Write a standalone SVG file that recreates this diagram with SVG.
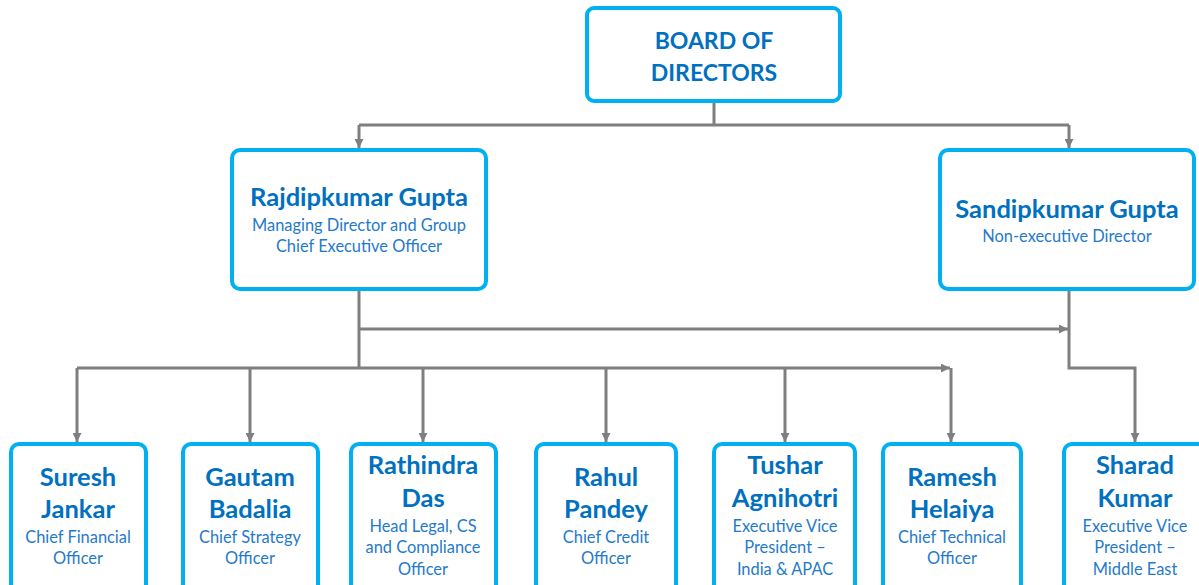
<svg xmlns="http://www.w3.org/2000/svg" width="1199" height="585" viewBox="0 0 1199 585">
<style>
.box{fill:#fff;stroke:#00B0F0;stroke-width:4}
.t{font-family:Lato,"Liberation Sans",sans-serif;font-weight:bold;fill:#0070C0;text-anchor:middle;font-size:25.5px}
.b{font-size:23px}
.s{font-family:Lato,"Liberation Sans",sans-serif;fill:#1F7ACB;text-anchor:middle;font-size:16.4px}
.c{fill:none;stroke:#7F7F7F;stroke-width:3}
.a{marker-end:url(#arr)}
</style>
<defs>
<marker id="arr" viewBox="0 0 10 10" refX="10" refY="5" markerWidth="9" markerHeight="9" markerUnits="userSpaceOnUse" orient="auto">
<path d="M0,0 L10,5 L0,10 z" fill="#7F7F7F"/>
</marker>
</defs>
<rect width="1199" height="585" fill="#fff"/>
<g id="connectors">
<path class="c" d="M714,103 V125 M359,125 H1069"/>
<path class="c a" d="M359,125 V148"/>
<path class="c a" d="M1069,125 V148"/>
<path class="c" d="M359,291 V368"/>
<path class="c a" d="M359,329 H1068"/>
<path class="c a" d="M1069,291 V368 H1135 V442"/>
<path class="c a" d="M77,368 H950"/>
<path class="c a" d="M951,368 V442"/>
<path class="c a" d="M77,368 V442"/>
<path class="c a" d="M250,368 V442"/>
<path class="c a" d="M423,368 V442"/>
<path class="c a" d="M606,368 V442"/>
<path class="c a" d="M785,368 V442"/>
</g>
<g id="board">
<rect class="box" x="587" y="8" width="253" height="93" rx="7"/>
<text class="t b" x="714" y="49">BOARD OF</text>
<text class="t b" x="714" y="81">DIRECTORS</text>
</g>
<g id="rajdipkumar">
<rect class="box" x="232" y="150" width="254" height="139" rx="8"/>
<text class="t" x="359" y="206">Rajdipkumar Gupta</text>
<text class="s" x="359" y="231">Managing Director and Group</text>
<text class="s" x="359" y="252">Chief Executive Officer</text>
</g>
<g id="sandipkumar">
<rect class="box" x="940" y="150" width="254" height="139" rx="8"/>
<text class="t" x="1067" y="218">Sandipkumar Gupta</text>
<text class="s" x="1067" y="242">Non-executive Director</text>
</g>
<g id="suresh">
<rect class="box" x="11" y="444" width="135" height="150" rx="8"/>
<text class="t" x="78" y="486">Suresh</text>
<text class="t" x="78" y="518">Jankar</text>
<text class="s" x="78" y="543">Chief Financial</text>
<text class="s" x="78" y="564">Officer</text>
</g>
<g id="gautam">
<rect class="box" x="183" y="444" width="135" height="150" rx="8"/>
<text class="t" x="250" y="486">Gautam</text>
<text class="t" x="250" y="518">Badalia</text>
<text class="s" x="250" y="543">Chief Strategy</text>
<text class="s" x="250" y="564">Officer</text>
</g>
<g id="rathindra">
<rect class="box" x="351" y="444" width="145" height="150" rx="8"/>
<text class="t" x="423" y="474">Rathindra</text>
<text class="t" x="423" y="507">Das</text>
<text class="s" x="423" y="532">Head Legal, CS</text>
<text class="s" x="423" y="553">and Compliance</text>
<text class="s" x="423" y="575">Officer</text>
</g>
<g id="rahul">
<rect class="box" x="536" y="444" width="140" height="150" rx="8"/>
<text class="t" x="606" y="486">Rahul</text>
<text class="t" x="606" y="518">Pandey</text>
<text class="s" x="606" y="543">Chief Credit</text>
<text class="s" x="606" y="564">Officer</text>
</g>
<g id="tushar">
<rect class="box" x="714" y="444" width="141" height="150" rx="8"/>
<text class="t" x="785" y="474">Tushar</text>
<text class="t" x="785" y="507">Agnihotri</text>
<text class="s" x="785" y="532">Executive Vice</text>
<text class="s" x="785" y="553">President –</text>
<text class="s" x="785" y="575">India &amp; APAC</text>
</g>
<g id="ramesh">
<rect class="box" x="883" y="444" width="138" height="150" rx="8"/>
<text class="t" x="952" y="486">Ramesh</text>
<text class="t" x="952" y="518">Helaiya</text>
<text class="s" x="952" y="543">Chief Technical</text>
<text class="s" x="952" y="564">Officer</text>
</g>
<g id="sharad">
<rect class="box" x="1064" y="444" width="142" height="150" rx="8"/>
<text class="t" x="1135" y="474">Sharad</text>
<text class="t" x="1135" y="507">Kumar</text>
<text class="s" x="1135" y="532">Executive Vice</text>
<text class="s" x="1135" y="553">President –</text>
<text class="s" x="1135" y="575">Middle East</text>
</g>
</svg>
